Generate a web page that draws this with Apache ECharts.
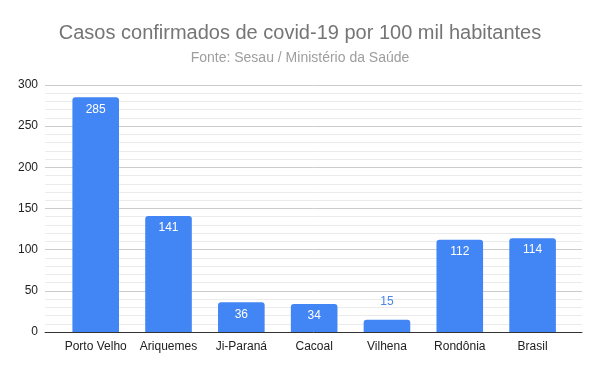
<!DOCTYPE html>
<html><head><meta charset="utf-8">
<script src="https://cdn.jsdelivr.net/npm/echarts@6/dist/echarts.min.js"></script>
<style>html,body{margin:0;padding:0;background:#fff}#c{width:600px;height:371px}</style>
</head><body><div id="c"></div>
<script>
const categories = ['Porto Velho','Ariquemes','Ji-Paraná','Cacoal','Vilhena','Rondônia','Brasil'];
const values = [285, 141, 36, 34, 15, 112, 114];
const yTicks = [0, 50, 100, 150, 200, 250, 300];

const chart = echarts.init(document.getElementById('c'), null, {renderer:'canvas'});
const font = '"Liberation Sans", Arial, sans-serif';
const blue = '#4285F4';
chart.setOption({
  animation:false,
  title:{
    text:'Casos confirmados de covid-19 por 100 mil habitantes',
    subtext:'Fonte: Sesau / Ministério da Saúde',
    left:'center', top:18, itemGap:8,
    textStyle:{fontFamily:font, fontSize:20, fontWeight:'normal', color:'#757575'},
    subtextStyle:{fontFamily:font, fontSize:14, color:'#9e9e9e'}
  },
  grid:[
    {left:45, right:18, top:85, bottom:39},
    {left:59.3, right:31, top:85, bottom:39}
  ],
  xAxis:[
    {type:'value', gridIndex:0, min:0, max:1, show:true,
     axisLine:{show:true, onZero:true, lineStyle:{color:'#333', width:1}},
     axisTick:{show:false}, axisLabel:{show:false}, splitLine:{show:false}},
    {type:'category', gridIndex:1, data:categories,
     axisLine:{show:false}, axisTick:{show:false},
     axisLabel:{interval:0, fontFamily:font, fontSize:12, color:'#222', margin:9}}
  ],
  yAxis:[
    {type:'value', gridIndex:0, min:yTicks[0], max:yTicks[yTicks.length-1], interval:50,
     axisLine:{show:false}, axisTick:{show:false},
     axisLabel:{fontFamily:font, fontSize:12, color:'#222', margin:7},
     splitLine:{lineStyle:{color:'#cccccc', width:1}},
     minorTick:{show:false, splitNumber:5},
     minorSplitLine:{show:true, lineStyle:{color:'#ebebeb', width:1}}},
    {type:'value', gridIndex:1, min:yTicks[0], max:yTicks[yTicks.length-1], show:false, splitLine:{show:false}}
  ],
  series:[{
    type:'bar', xAxisIndex:1, yAxisIndex:1,
    data: values.map(v => v < 25 ? {value:v, label:{position:'top', distance:12, color:'#4a86e8'}} : v),
    barCategoryGap:'36%',
    itemStyle:{color:blue, borderRadius:[3,3,0,0]},
    label:{show:true, position:'insideTop', distance:6, color:'#ffffff', fontFamily:font, fontSize:12}
  }]
});
</script></body></html>
